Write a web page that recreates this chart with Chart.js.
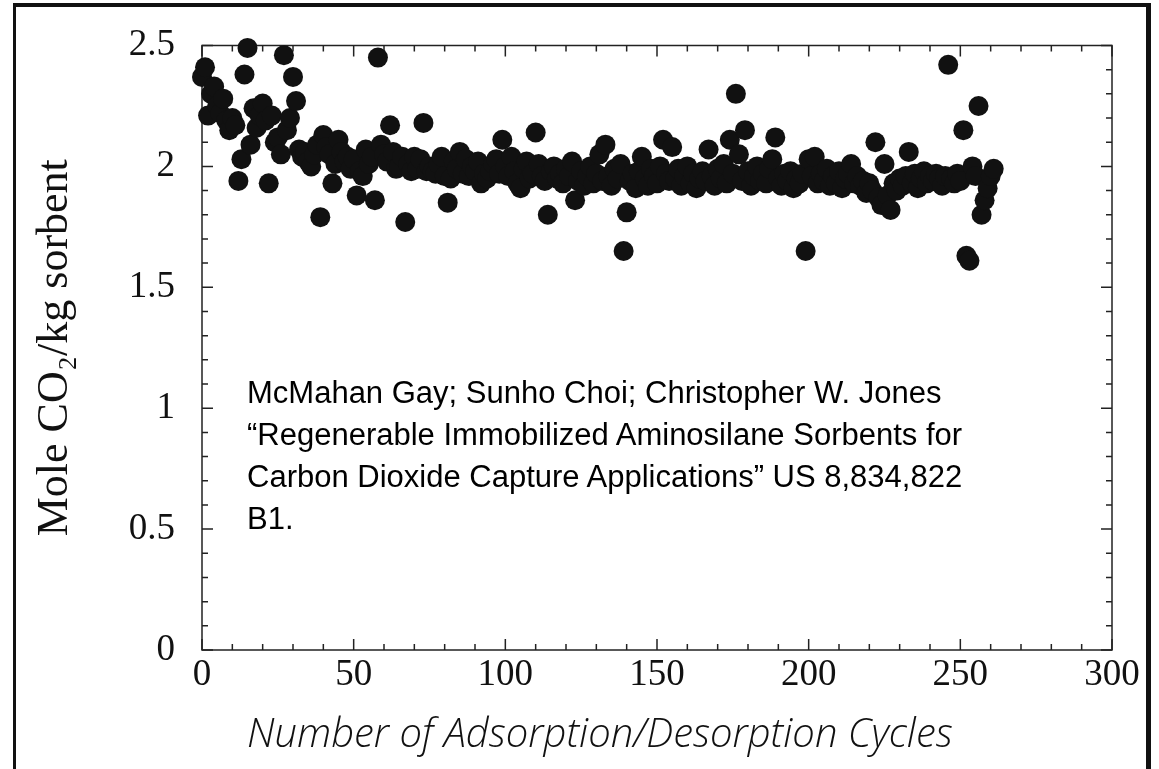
<!DOCTYPE html>
<html>
<head>
<meta charset="utf-8">
<script src="https://cdn.jsdelivr.net/npm/chart.js@4.4.1/dist/chart.umd.min.js"></script>
<style>
    html, body { margin: 0; padding: 0; background: #fff; }
    #wrap { position: relative; width: 1159px; height: 769px; overflow: hidden; }
    #frame {
        position: absolute; left: 13px; top: 3px; width: 1138px; height: 800px;
        box-sizing: border-box; border-left: 3px solid #111; border-top: 4px solid #111;
        border-right: 5px solid #111; pointer-events: none;
    }
    #note {
        position: absolute; left: 247px; top: 372px;
        font-family: "Liberation Sans", Arial, sans-serif; font-size: 31px; line-height: 42px; color: #000;
    }
    #xcaption {
        position: absolute; left: 247px; top: 712px;
        font-family: "Open Sans", sans-serif; font-style: italic; font-weight: 300;
        font-size: 40px; line-height: 40px; color: #111; white-space: nowrap;
    }
</style>
</head>
<body>
<div id="wrap">
    <canvas id="cyclesChart"></canvas>
    <div id="frame"></div>
    <div id="note">McMahan Gay; Sunho Choi; Christopher W. Jones<br>“Regenerable Immobilized Aminosilane Sorbents for<br>Carbon Dioxide Capture Applications” US 8,834,822<br>B1.</div>
    <div id="xcaption">Number of Adsorption/Desorption Cycles</div>
</div>
<script>
// cycle number of each measurement
const cycles = [
    0, 1, 2, 3, 4, 5, 6, 7, 8, 9,
    10, 11, 12, 13, 14, 15, 16, 17, 18, 19,
    20, 21, 22, 23, 24, 25, 26, 27, 28, 29,
    30, 31, 32, 33, 34, 35, 36, 37, 38, 39,
    40, 41, 42, 43, 44, 45, 46, 47, 48, 49,
    50, 51, 52, 53, 54, 55, 56, 57, 58, 59,
    60, 61, 62, 63, 64, 65, 66, 67, 68, 69,
    70, 71, 72, 73, 74, 75, 76, 77, 78, 79,
    80, 81, 82, 83, 84, 85, 86, 87, 88, 89,
    90, 91, 92, 93, 94, 95, 96, 97, 98, 99,
    100, 101, 102, 103, 104, 105, 106, 107, 108, 109,
    110, 111, 112, 113, 114, 115, 116, 117, 118, 119,
    120, 121, 122, 123, 124, 125, 126, 127, 128, 129,
    130, 131, 132, 133, 134, 135, 136, 137, 138, 139,
    140, 141, 142, 143, 144, 145, 146, 147, 148, 149,
    150, 151, 152, 153, 154, 155, 156, 157, 158, 159,
    160, 161, 162, 163, 164, 165, 166, 167, 168, 169,
    170, 171, 172, 173, 174, 175, 176, 177, 178, 179,
    180, 181, 182, 183, 184, 185, 186, 187, 188, 189,
    190, 191, 192, 193, 194, 195, 196, 197, 198, 199,
    200, 201, 202, 203, 204, 205, 206, 207, 208, 209,
    210, 211, 212, 213, 214, 215, 216, 217, 218, 219,
    220, 221, 222, 223, 224, 225, 226, 227, 228, 229,
    230, 231, 232, 233, 234, 235, 236, 237, 238, 239,
    240, 241, 242, 243, 244, 245, 246, 247, 248, 249,
    250, 251, 252, 253, 254, 255, 256, 257, 258, 259,
    260, 261,
];

// mole CO2 per kg sorbent
const capacity = [
    2.37, 2.41, 2.21, 2.30, 2.33, 2.25, 2.22, 2.28, 2.19, 2.15,
    2.20, 2.17, 1.94, 2.03, 2.38, 2.49, 2.09, 2.24, 2.16, 2.21,
    2.26, 2.19, 1.93, 2.21, 2.10, 2.12, 2.05, 2.46, 2.15, 2.20,
    2.37, 2.27, 2.07, 2.04, 2.06, 2.02, 2.00, 2.05, 2.09, 1.79,
    2.13, 2.08, 2.05, 1.93, 2.01, 2.11, 2.06, 2.02, 2.04, 1.99,
    2.03, 1.88, 1.98, 1.96, 2.07, 2.01, 2.04, 1.86, 2.45, 2.09,
    2.05, 2.02, 2.17, 2.06, 1.99, 2.00, 2.04, 1.77, 2.01, 1.98,
    2.04, 1.99, 2.03, 2.18, 1.98, 2.00, 1.98, 1.97, 2.01, 2.04,
    1.96, 1.85, 1.95, 2.02, 1.99, 2.06, 1.97, 2.03, 1.96, 2.00,
    1.98, 2.02, 1.93, 1.97, 1.95, 1.98, 2.01, 2.03, 1.97, 2.11,
    2.00, 1.96, 2.04, 1.98, 1.93, 1.91, 1.99, 2.02, 1.95, 1.97,
    2.14, 2.01, 1.96, 1.94, 1.80, 1.98, 2.00, 1.95, 1.97, 1.93,
    1.99, 1.96, 2.02, 1.86, 1.94, 1.98, 1.92, 1.96, 2.00, 1.93,
    1.97, 2.05, 1.94, 2.09, 1.96, 1.92, 1.99, 1.95, 2.01, 1.65,
    1.81, 1.94, 1.97, 1.91, 1.98, 2.04, 1.95, 1.92, 1.99, 1.96,
    1.93, 2.00, 2.11, 1.97, 1.94, 2.08, 1.95, 1.99, 1.92, 1.96,
    2.00, 1.93, 1.97, 1.91, 1.95, 1.98, 1.94, 2.07, 1.96, 1.92,
    1.99, 1.95, 2.01, 1.93, 2.11, 1.97, 2.30, 2.05, 1.94, 2.15,
    1.98, 1.92, 1.96, 2.00, 1.94, 1.97, 1.93, 1.99, 2.03, 2.12,
    1.95, 1.92, 1.97, 1.94, 1.98, 1.91, 1.95, 1.93, 1.97, 1.65,
    2.03, 1.96, 2.04, 1.93, 1.97, 1.94, 1.99, 1.92, 1.96, 1.93,
    1.98, 1.91, 1.95, 1.97, 2.01, 1.93, 1.96, 1.92, 1.94, 1.89,
    1.93, 1.90, 2.10, 1.87, 1.84, 2.01, 1.88, 1.82, 1.93, 1.90,
    1.95, 1.92, 1.96, 2.06, 1.93, 1.97, 1.91, 1.95, 1.98, 1.93,
    1.96, 1.94, 1.97, 1.95, 1.92, 1.96, 2.42, 1.95, 1.93, 1.97,
    1.94, 2.15, 1.63, 1.61, 2.00, 1.96, 2.25, 1.80, 1.86, 1.91,
    1.96, 1.99,
];

// axis ranges and tick spacing
const xRange = [0, 300];
const xMajor = 50;
const xMinor = 10;
const yRange = [0, 2.5];
const yMajor = 0.5;
const yMinorCount = 25; // ticks every 0.1

const serif = '"Liberation Serif", "Times New Roman", serif';

// box around the plot with inward tick marks on all four sides
const frameTicks = {
    id: 'frameTicks',
    beforeDatasetsDraw(chart) {
        const { ctx, chartArea: a, scales: { x, y } } = chart;
        ctx.save();
        ctx.strokeStyle = '#222';
        ctx.lineWidth = 1.5;
        ctx.strokeRect(a.left, a.top, a.right - a.left, a.bottom - a.top);
        ctx.beginPath();
        for (let v = xRange[0]; v <= xRange[1]; v += xMinor) {
            const px = x.getPixelForValue(v);
            const len = v % xMajor === 0 ? 11 : 6;
            ctx.moveTo(px, a.bottom);
            ctx.lineTo(px, a.bottom - len);
            ctx.moveTo(px, a.top);
            ctx.lineTo(px, a.top + len);
        }
        for (let i = 0; i <= yMinorCount; i++) {
            const py = y.getPixelForValue((i * yRange[1]) / yMinorCount);
            const len = i % 5 === 0 ? 11 : 6;
            ctx.moveTo(a.left, py);
            ctx.lineTo(a.left + len, py);
            ctx.moveTo(a.right, py);
            ctx.lineTo(a.right - len, py);
        }
        ctx.stroke();
        ctx.restore();
    },
};

const ctx = document.getElementById('cyclesChart').getContext('2d');
const cyclesChart = new Chart(ctx, {
    type: 'scatter',
    data: {
        datasets: [
            {
                label: 'CO2 capacity',
                data: cycles.map((c, i) => ({ x: c, y: capacity[i] })),
                backgroundColor: '#111',
                borderWidth: 0,
                pointRadius: 10,
                clip: false,
            },
        ],
    },
    options: {
        responsive: true,
        maintainAspectRatio: false,
        animation: false,
        events: [],
        layout: { padding: { top: 42, right: 47, left: 0, bottom: 0 } },
        plugins: {
            legend: { display: false },
            tooltip: { enabled: false },
        },
        scales: {
            x: {
                type: 'linear',
                min: xRange[0],
                max: xRange[1],
                grid: { display: false, drawTicks: false },
                border: { display: false },
                ticks: {
                    stepSize: xMajor,
                    padding: 7,
                    color: '#111',
                    font: { family: serif, size: 37, lineHeight: 1 },
                    maxRotation: 0,
                },
                afterFit(scale) {
                    scale.height = 119;
                },
            },
            y: {
                min: yRange[0],
                max: yRange[1],
                grid: { display: false, drawTicks: false },
                border: { display: false },
                ticks: {
                    stepSize: yMajor,
                    padding: 27,
                    color: '#111',
                    font: { family: serif, size: 37, lineHeight: 1 },
                    callback: (v) => String(v),
                },
                title: {
                    display: true,
                    text: 'Mole CO₂/kg sorbent',
                    color: '#111',
                    font: { family: serif, size: 44, lineHeight: 1 },
                    padding: { top: 33, bottom: 0 },
                },
                afterFit(scale) {
                    scale.width = 202;
                },
            },
        },
    },
    plugins: [frameTicks],
});
</script>
</body>
</html>
